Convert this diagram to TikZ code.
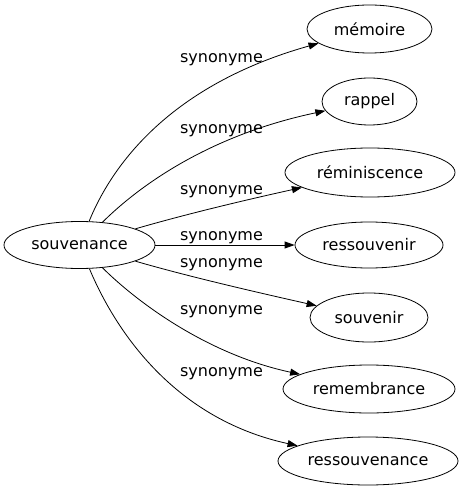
\documentclass[tikz,border=0pt]{standalone}
\usepackage{fontspec}
\setmainfont{DejaVu Sans}
\usetikzlibrary{shapes.geometric,arrows.meta}
\begin{document}
\begin{tikzpicture}[x=1bp,y=-1bp,
  every node/.style={font=\fontsize{16bp}{19bp}\selectfont},
  word/.style={ellipse, draw, line width=0.8bp, inner sep=0pt},
  lbl/.style={anchor=base, inner sep=0pt},
  link/.style={line width=0.8bp, -{Triangle[length=10bp,width=7bp]}}]
\useasboundingbox (0,0) rectangle (465,491);
\node[word, minimum width=151bp, minimum height=47bp] (s) at (79.5,245) {souvenance};
\node[word, minimum width=125bp, minimum height=48bp] (m) at (369.5,29) {mémoire};
\node[word, minimum width=95bp, minimum height=47bp] (r) at (369.5,101.5) {rappel};
\node[word, minimum width=170bp, minimum height=49bp] (rem) at (370,172.5) {réminiscence};
\node[word, minimum width=148bp, minimum height=46bp] (rs) at (369,245) {ressouvenir};
\node[word, minimum width=118bp, minimum height=49bp] (sv) at (369,317.5) {souvenir};
\node[word, minimum width=172bp, minimum height=48bp] (rb) at (369,389) {remembrance};
\node[word, minimum width=180bp, minimum height=48bp] (rsv) at (368,461) {ressouvenance};
\node[lbl] (l1) at (221.5,62.3) {synonyme};
\node[lbl] (l2) at (221.5,134) {synonyme};
\node[lbl] (l3) at (221.5,194.3) {synonyme};
\node[lbl] (l4) at (221.5,240) {synonyme};
\node[lbl] (l5) at (221.5,267.3) {synonyme};
\node[lbl] (l6) at (221.5,314.3) {synonyme};
\node[lbl] (l7) at (221.5,376.7) {synonyme};
\draw[link] (s) .. controls (112,165) and (170,85) .. (m);
\draw[link] (s) .. controls (140,185) and (210,135) .. (r);
\draw[link] (s) .. controls (190,213) and (250,199) .. (rem);
\draw[link] (s) -- (rs);
\draw[link] (s) .. controls (190,277) and (260,293) .. (sv);
\draw[link] (s) .. controls (140,305) and (210,355) .. (rb);
\draw[link] (s) .. controls (113,325) and (170,418) .. (rsv);
\end{tikzpicture}
\end{document}
